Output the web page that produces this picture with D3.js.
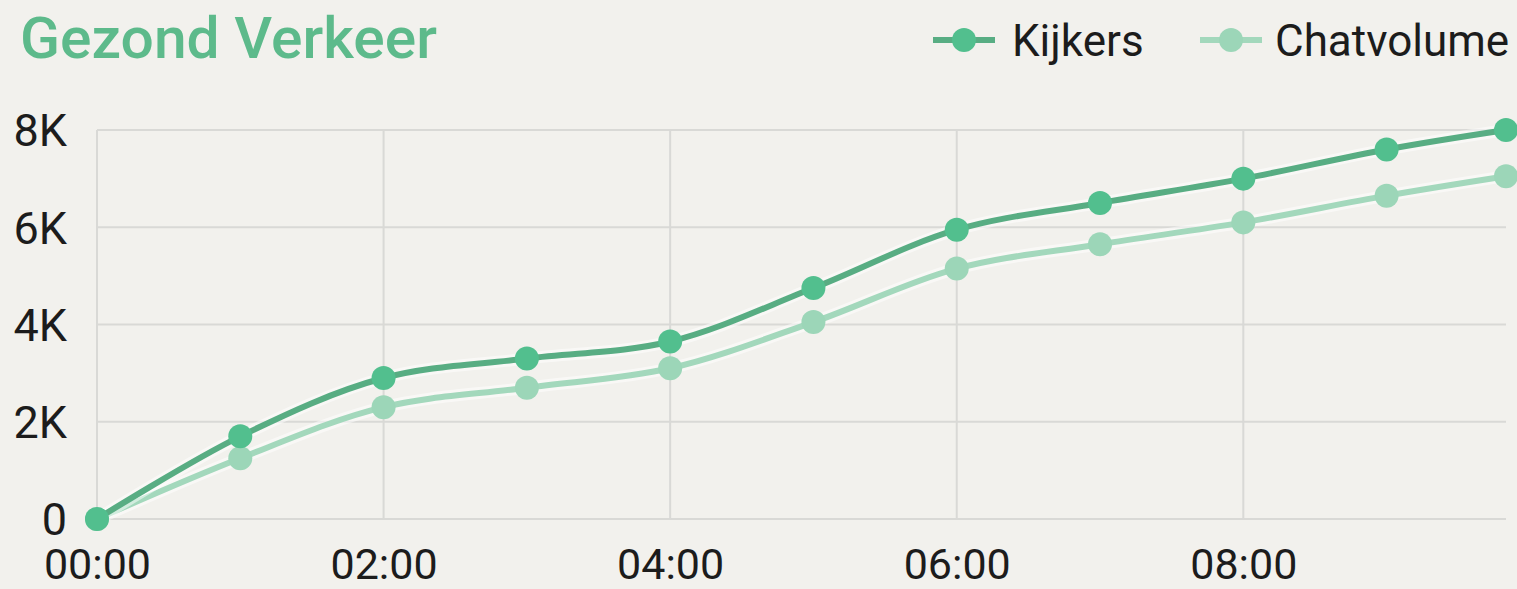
<!DOCTYPE html>
<html>
<head>
<meta charset="utf-8">
<script src="https://cdn.jsdelivr.net/npm/d3@7"></script>
<style>
  html, body { margin: 0; padding: 0; background: #f2f1ed; }
  svg { display: block; }
</style>
</head>
<body>
<svg id="chart" width="1517" height="589"></svg>
<script>
const times = ["00:00","01:00","02:00","03:00","04:00","05:00","06:00","07:00","08:00","09:00","09:50"];
const kijkers = [0, 1700, 2900, 3300, 3650, 4750, 5950, 6500, 7000, 7600, 8000];
const chatvolume = [0, 1250, 2300, 2700, 3100, 4050, 5150, 5650, 6100, 6650, 7050];
const xTickLabels = ["00:00","02:00","04:00","06:00","08:00"];
const yTickValues = [0, 2000, 4000, 6000, 8000];
const seriesNames = ["Kijkers", "Chatvolume"];
const title = "Gezond Verkeer";

const toMin = s => { const [h, m] = s.split(":").map(Number); return h * 60 + m; };

const svg = d3.select("#chart");
const mLeft = 97, mRight = 1506, mTop = 130, mBottom = 519;

const x = d3.scaleLinear().domain([0, toMin(times[times.length - 1])]).range([mLeft, mRight]);
const y = d3.scaleLinear().domain([0, 8000]).range([mBottom, mTop]);

const font = "Roboto, 'Liberation Sans', sans-serif";

// grid
svg.append("g").selectAll("line").data(yTickValues).join("line")
  .attr("x1", mLeft).attr("x2", mRight)
  .attr("y1", d => y(d)).attr("y2", d => y(d))
  .attr("stroke", "#d9d9d6").attr("stroke-width", 2);
svg.append("g").selectAll("line").data(xTickLabels).join("line")
  .attr("x1", d => x(toMin(d))).attr("x2", d => x(toMin(d)))
  .attr("y1", mTop).attr("y2", mBottom)
  .attr("stroke", "#d9d9d6").attr("stroke-width", 2);

// axes
const yAxis = d3.axisLeft(y).tickValues(yTickValues)
  .tickFormat(d => d === 0 ? "0" : (d / 1000) + "K").tickSize(0).tickPadding(30);
const gy = svg.append("g").attr("transform", `translate(${mLeft},0)`).call(yAxis);
gy.select(".domain").remove();
gy.selectAll("text").attr("font-family", font).attr("font-size", 45).attr("fill", "#1c1c1c").attr("dy", "0.35em");

const xAxis = d3.axisBottom(x).tickValues(xTickLabels.map(toMin))
  .tickFormat((d, i) => xTickLabels[i]).tickSize(0).tickPadding(0);
const gx = svg.append("g").attr("transform", `translate(0,${mBottom})`).call(xAxis);
gx.select(".domain").remove();
gx.selectAll("text").attr("font-family", font).attr("font-size", 43).attr("fill", "#1c1c1c")
  .attr("dy", null).attr("y", 60);

// series
const series = [
  { name: seriesNames[0], values: kijkers, line: "#58ad83", dot: "#52bf8e" },
  { name: seriesNames[1], values: chatvolume, line: "#a3d8bc", dot: "#9cd6b8" }
];
const line = d3.line().x((d, i) => x(toMin(times[i]))).y(d => y(d)).curve(d3.curveCatmullRom.alpha(0.5));

[series[1], series[0]].forEach(s => {
  svg.append("path").datum(s.values).attr("d", line).attr("fill", "none")
    .attr("stroke", "#ffffff").attr("stroke-opacity", 0.5).attr("stroke-width", 12);
  svg.append("path").datum(s.values).attr("d", line).attr("fill", "none")
    .attr("stroke", s.line).attr("stroke-width", 6).attr("stroke-linejoin", "round");
  svg.append("g").selectAll("circle").data(s.values).join("circle")
    .attr("cx", (d, i) => x(toMin(times[i]))).attr("cy", d => y(d))
    .attr("r", 12).attr("fill", s.dot);
});

// title
svg.append("text").attr("x", 20).attr("y", 58).text(title)
  .attr("font-family", font).attr("font-weight", 500).attr("font-size", 58)
  .attr("fill", "#5dba8b").attr("textLength", 417).attr("lengthAdjust", "spacingAndGlyphs");

// legend
const legendX = [933, 1200];
const legendText = [1012, 1275];
series.forEach((s, i) => {
  const g = svg.append("g");
  g.append("line").attr("x1", legendX[i]).attr("x2", legendX[i] + 62).attr("y1", 40).attr("y2", 40)
    .attr("stroke", s.line).attr("stroke-width", 6);
  g.append("circle").attr("cx", legendX[i] + 31).attr("cy", 40).attr("r", 12).attr("fill", s.dot);
  g.append("text").attr("x", legendText[i]).attr("y", 56).text(s.name)
    .attr("font-family", font).attr("font-size", 44).attr("fill", "#1c1c1c");
});
</script>
</body>
</html>
